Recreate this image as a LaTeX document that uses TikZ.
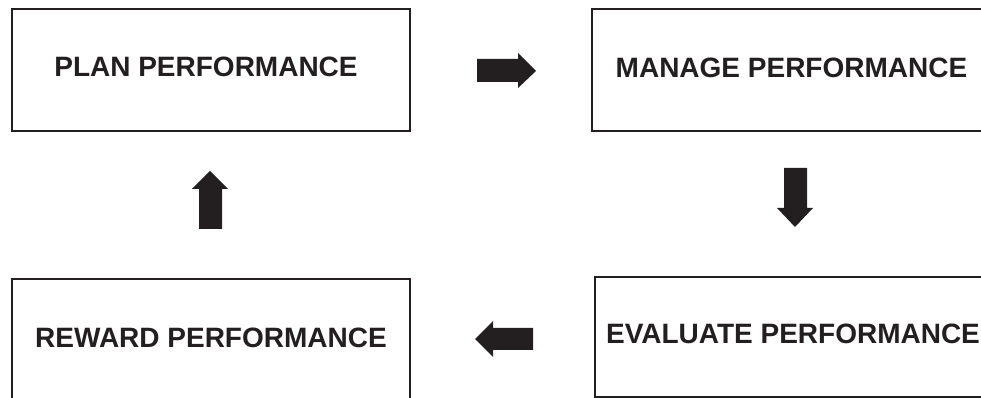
\documentclass[tikz,border=0pt]{standalone}
\usepackage{fontspec}
\setmainfont{Liberation Sans}
\definecolor{ink}{HTML}{231F20}
\begin{document}
\begin{tikzpicture}[x=0.75pt,y=-0.75pt,
  box/.style={draw=ink,line width=1.6pt},
  lbl/.style={anchor=base,inner sep=0pt,text=ink,font=\fontsize{21}{25}\selectfont\bfseries},
  blk/.style={fill=ink,draw=none}]
\useasboundingbox (0,0) rectangle (981,398);
\clip (0,0) rectangle (981,398);
% boxes
\draw[box] (12,9) rectangle (410,131);
\draw[box] (592,9) rectangle (995,131);
\draw[box] (12,279) rectangle (410,415);
\draw[box] (595,277) rectangle (995,397.5);
% labels
\node[lbl] (plan) at (206,77) {PLAN PERFORMANCE};
\node[lbl] (manage) at (791.5,78) {MANAGE PERFORMANCE};
\node[lbl] (reward) at (211,348) {REWARD PERFORMANCE};
\node[lbl] (evaluate) at (793,344) {EVALUATE PERFORMANCE};
% block arrows
\fill[blk] (477,59) -- (518,59) -- (518,53) -- (536,71) -- (518,88) -- (518,82) -- (477,82) -- cycle;
\fill[blk] (784,168) -- (807,168) -- (807,208) -- (813,208) -- (795,227) -- (777,208) -- (784,208) -- cycle;
\fill[blk] (533,328) -- (493,328) -- (493,321) -- (475,339) -- (493,357) -- (493,350) -- (533,350) -- cycle;
\fill[blk] (199,229) -- (199,189) -- (192,189) -- (210,171) -- (228,189) -- (222,189) -- (222,229) -- cycle;
\end{tikzpicture}
\end{document}
